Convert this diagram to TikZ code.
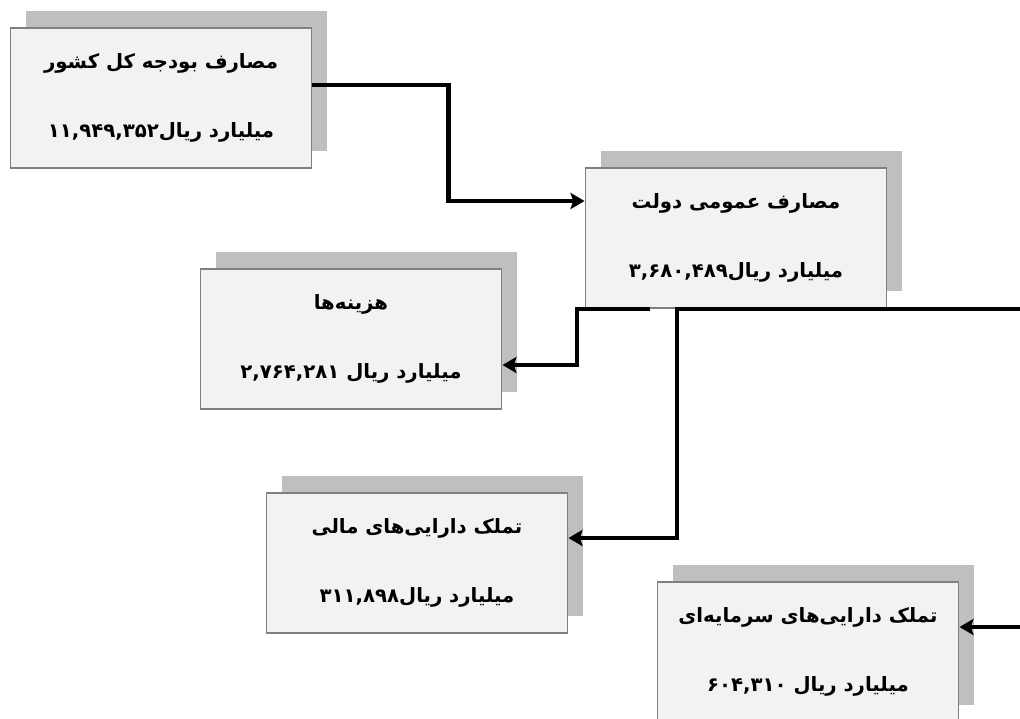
\documentclass[tikz,border=0pt]{standalone}
\usepackage{fontspec}
\newfontfamily\arabicfont[Script=Arabic]{DejaVu Sans}
\TeXXeTstate=1
\usetikzlibrary{arrows.meta}
\usetikzlibrary{calc}
\usetikzlibrary{shadows}

\begin{document}
\begin{tikzpicture}[x=0.025cm,y=-0.025cm,
        box/.style={draw=black!50,line width=1.2pt,fill=black!5,
            minimum width=7.53cm,minimum height=3.5cm,align=center,
            font=\arabicfont\bfseries\fontsize{14}{17}\selectfont,
            general shadow={fill=black!25,shadow xshift=0.39cm,shadow yshift=0.43cm}},
        flow/.style={line width=3pt,-{Stealth[length=10pt,width=11.5pt,inset=2pt]}}]
            \useasboundingbox (0,0) rectangle (1020,718);
            \clip (0,0) rectangle (1020,718);
            \node[box] (K) at (161,98) {\beginR مصارف بودجه کل کشور\endR\\[32pt]\beginR میلیارد ریال\beginL ۱۱,۹۴۹,۳۵۲\endL\endR};
            \node[box] (D) at (736,238) {\beginR مصارف عمومی دولت\endR\\[32pt]\beginR میلیارد ریال\beginL ۳,۶۸۰,۴۸۹\endL\endR};
            \node[box] (H) at (351,339) {\beginR هزینه‌ها\endR\\[32pt]\beginR میلیارد ریال \beginL ۲,۷۶۴,۲۸۱\endL\endR};
            \node[box] (M) at (417,563) {\beginR تملک دارایی‌های مالی\endR\\[32pt]\beginR میلیارد ریال\beginL ۳۱۱,۸۹۸\endL\endR};
            \node[box] (S) at (808,652) {\beginR تملک دارایی‌های سرمایه‌ای\endR\\[32pt]\beginR میلیارد ریال \beginL ۶۰۴,۳۱۰\endL\endR};
            \draw[flow] ($(K.east)+(0,-13)$) -- ++(136,0) |- ($(D.west)+(0,-37)$);
            \draw[flow] ($(D.south)+(-86,0)$) -- ++(-73,0) |- ($(H.east)+(0,26)$);
            \draw[flow] ($(D.south)+(51,0)$) -- ++(-110,0) |- ($(M.east)+(0,-25)$);
            \draw[flow] ($(D.south)+(51,0)$) -- ++(260,0) |- ($(S.east)+(0,-25)$);
        \end{tikzpicture}
\end{document}
